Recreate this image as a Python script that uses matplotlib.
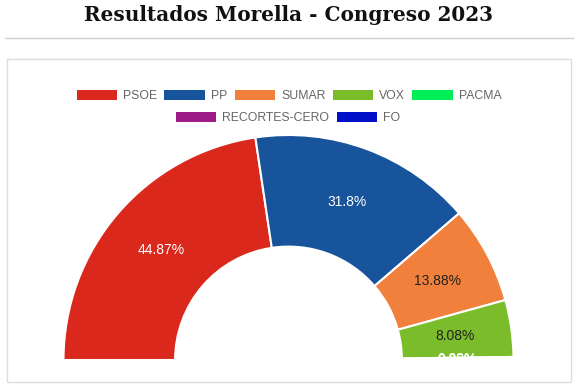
import matplotlib
matplotlib.use('Agg')
import matplotlib.pyplot as plt
from matplotlib.patches import Patch, Rectangle
from matplotlib.lines import Line2D

matplotlib.rcParams['font.family'] = ['Liberation Sans', 'DejaVu Sans']

# data
parties = ['PSOE', 'PP', 'SUMAR', 'VOX', 'PACMA', 'RECORTES-CERO', 'FO']
pct_values = [44.87, 31.8, 13.88, 8.08, 0.33, 0.05, 0.05]
party_colors = ['#da291c', '#17549b', '#f0803c', '#7bbc2a', '#00ee55', '#9c1b87', '#0010c8']
text_colors = ['white', 'white', '#222222', '#222222', 'white', 'white', 'white']

W, H = 578, 384
fig = plt.figure(figsize=(W / 100, H / 100), dpi=100)
fig.patch.set_facecolor('white')

# title + separator + card frame
fig.text(0.5, 1 - 15 / H, 'Resultados Morella - Congreso 2023', ha='center', va='center',
         family='DejaVu Serif', fontweight='bold', fontsize=14.4, color='#111111')
fig.add_artist(Line2D([5 / W, 573 / W], [1 - 38 / H, 1 - 38 / H], color='#cccccc', lw=1))
fig.add_artist(Rectangle((7 / W, 1 - 382 / H), 564 / W, 323 / H, transform=fig.transFigure,
                         fill=False, edgecolor='#dddddd', lw=1))

# half doughnut: center at (288.5, 360) px, outer radius 225 px
cx, cy, R = 288.5, 360, 225
pad = 230
ax = fig.add_axes([(cx - pad) / W, (H - cy) / H, 2 * pad / W, pad / H])

total = sum(pct_values)
values = pct_values + [total]  # hidden lower half


def fmt(pct):
    v = round(pct * sum(values) / 100, 2)
    if v > 50:
        return ''
    return f'{v:g}%'


wedges, texts, autotexts = ax.pie(values, colors=party_colors + ['none'], startangle=180,
                                  counterclock=False, autopct=fmt, pctdistance=0.75,
                                  wedgeprops={'width': 0.496, 'edgecolor': 'white',
                                              'linewidth': 1.5},
                                  textprops={'fontsize': 10})
wedges[-1].set_visible(False)
for t, c in zip(autotexts, text_colors + ['white']):
    t.set_color(c)
    t.set_clip_on(True)

ax.set_xlim(-pad / R, pad / R)
ax.set_ylim(0, pad / R)
ax.set_aspect('auto')
ax.axis('off')

# legend, chart.js style in two centred rows
handles = [Patch(facecolor=c, edgecolor='none') for c in party_colors]
leg_kw = dict(frameon=False, fontsize=8.8, labelcolor='#666666', handlelength=3.3,
              handleheight=0.95, handletextpad=0.5, columnspacing=0.6, loc='center')
fig.legend(handles[:5], parties[:5], ncol=5,
           bbox_to_anchor=(289 / W, 1 - 96 / H), **leg_kw)
fig.legend(handles[5:], parties[5:], ncol=2,
           bbox_to_anchor=(288 / W, 1 - 118 / H), **leg_kw)

fig.savefig('out.png', dpi=100)
